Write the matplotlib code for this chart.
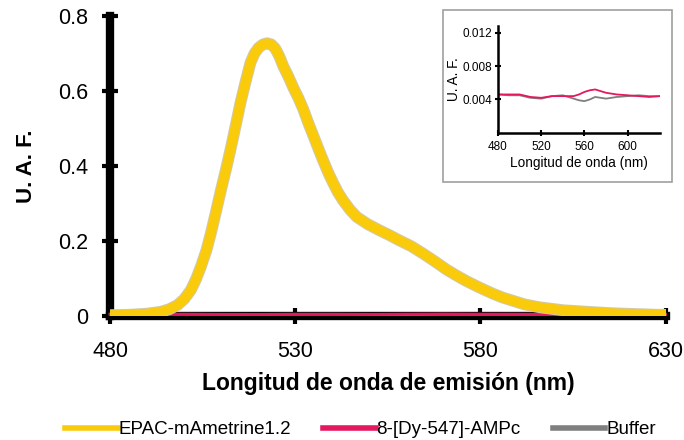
import matplotlib
matplotlib.use("Agg")
import matplotlib.pyplot as plt
from matplotlib.patches import Rectangle
from matplotlib.lines import Line2D

plt.rcParams['font.family'] = ['Liberation Sans', 'DejaVu Sans']

# Main spectrum (EPAC-mAmetrine1.2)
wl_epac = [480, 485, 490, 493.7, 496, 498.2, 500, 501.8, 503.2, 504.5, 506, 507.2, 508.5,
           509.8, 511.2, 512.5, 513.9, 515.2, 516.6, 517.9, 519, 520.1, 521.3, 522.4,
           523.5, 524.6, 525.7, 526.8, 528.2, 529.5, 530.9, 532.2, 533.5, 534.9, 536.2,
           537.5, 538.9, 540.2, 541.5, 542.9, 544.8, 546.6, 549.5, 552.8, 555.5, 558.2,
           561.3, 564.4, 567.6, 570.8, 573.5, 576.2, 579.7, 583.2, 586, 588.6, 591.8,
           596, 602.5, 609, 615.9, 622, 628, 630]
uaf_epac = [0.002, 0.003, 0.006, 0.011, 0.018, 0.029, 0.045, 0.069, 0.098, 0.131, 0.175,
            0.22, 0.274, 0.33, 0.387, 0.443, 0.507, 0.568, 0.625, 0.675, 0.700, 0.715,
            0.724, 0.727, 0.724, 0.713, 0.692, 0.665, 0.637, 0.608, 0.580, 0.550, 0.515,
            0.480, 0.447, 0.415, 0.382, 0.355, 0.330, 0.308, 0.283, 0.264, 0.245, 0.228,
            0.215, 0.201, 0.186, 0.167, 0.146, 0.124, 0.108, 0.093, 0.076, 0.060, 0.049,
            0.041, 0.031, 0.023, 0.015, 0.011, 0.007, 0.005, 0.003, 0.003]

# Controls
wl_ctrl = [480, 490, 500, 510, 520, 530, 540, 550, 555, 560, 565, 570, 575, 580,
           590, 600, 610, 620, 630]
uaf_dy = [0.0046, 0.0046, 0.0046, 0.0043, 0.0042, 0.0044, 0.0044, 0.0044, 0.0046,
          0.0049, 0.0051, 0.0052, 0.0050, 0.0048, 0.0046, 0.0045, 0.0044, 0.0043, 0.0044]
uaf_buf = [0.0046, 0.0045, 0.0045, 0.0042, 0.0041, 0.0044, 0.0045, 0.0041, 0.0039,
           0.0038, 0.0040, 0.0043, 0.0042, 0.0041, 0.0043, 0.0044, 0.0045, 0.0044, 0.0044]

main_xticks = [480, 530, 580, 630]
main_yticks = [0, 0.2, 0.4, 0.6, 0.8]
main_yticklabels = ['0', '0.2', '0.4', '0.6', '0.8']
inset_xticks = [480, 520, 560, 600]
inset_yticks = [0.004, 0.008, 0.012]
inset_yticklabels = ['0.004', '0.008', '0.012']

c_yellow = '#FACB0A'
c_pink = '#E5175F'
c_gray = '#7F7F7F'

fig = plt.figure(figsize=(6.84, 4.40), dpi=100)
ax = fig.add_axes([0.161, 0.282, 0.812, 0.682])

ax.plot(wl_ctrl, uaf_buf, color=c_gray, lw=2, zorder=2, clip_on=False)
ax.plot(wl_ctrl, uaf_dy, color=c_pink, lw=2, zorder=2, clip_on=False)
ax.plot(wl_epac, uaf_epac, color='#D2C9A8', lw=8.5, zorder=3, solid_capstyle='round',
        solid_joinstyle='round')
ax.plot(wl_epac, uaf_epac, color=c_yellow, lw=7, zorder=4, solid_capstyle='round',
        solid_joinstyle='round')

ax.set_xlim(480, 630)
ax.set_ylim(0, 0.8)
for s in ['top', 'right']:
    ax.spines[s].set_visible(False)
for s in ['left', 'bottom']:
    ax.spines[s].set_linewidth(6)
    ax.spines[s].set_color('black')
    ax.spines[s].set_zorder(1)
ax.set_xticks(main_xticks)
ax.set_xticklabels([str(t) for t in main_xticks])
ax.set_yticks(main_yticks)
ax.set_yticklabels(main_yticklabels)
ax.tick_params(direction='inout', length=12, width=3, labelsize=15.5, color='black')
ax.tick_params(axis='x', pad=12)
ax.tick_params(axis='y', pad=10)
ax.set_xlabel('Longitud de onda de emisión (nm)', fontsize=16.5, fontweight='bold', labelpad=7)
ax.set_ylabel('U. A. F.', fontsize=16, fontweight='bold', labelpad=15)

# legend
handles = [Line2D([], [], color=c_yellow, lw=4),
           Line2D([], [], color=c_pink, lw=4),
           Line2D([], [], color=c_gray, lw=4)]
fig.legend(handles, ['EPAC-mAmetrine1.2', '8-[Dy-547]-AMPc', 'Buffer'],
           loc='center', bbox_to_anchor=(0.527, 0.023), ncol=3, frameon=False,
           fontsize=13.5, handlelength=2.8, handletextpad=0.05, columnspacing=1.7,
           borderpad=0, borderaxespad=0)

# inset frame
fig.patches.append(Rectangle((0.648, 0.586), 0.335, 0.391, transform=fig.transFigure,
                             fill=False, edgecolor='#A0A0A0', lw=1.2, zorder=5))
axi = fig.add_axes([0.728, 0.698, 0.237, 0.243])
axi.plot(wl_ctrl, uaf_buf, color=c_gray, lw=1.3)
axi.plot(wl_ctrl, uaf_dy, color=c_pink, lw=1.3)
axi.set_xlim(480, 630)
axi.set_ylim(0, 0.0128)
for s in ['top', 'right']:
    axi.spines[s].set_visible(False)
for s in ['left', 'bottom']:
    axi.spines[s].set_linewidth(1.8)
axi.set_xticks(inset_xticks)
axi.set_xticklabels([str(t) for t in inset_xticks])
axi.set_yticks(inset_yticks)
axi.set_yticklabels(inset_yticklabels)
axi.tick_params(direction='inout', length=4, width=1.5, labelsize=8.5, pad=2)
axi.tick_params(axis='x', pad=4)
axi.set_xlabel('Longitud de onda (nm)', fontsize=9.8, labelpad=2)
axi.set_ylabel('U. A. F.', fontsize=9.8, labelpad=1)

fig.savefig('out.png', dpi=100)
